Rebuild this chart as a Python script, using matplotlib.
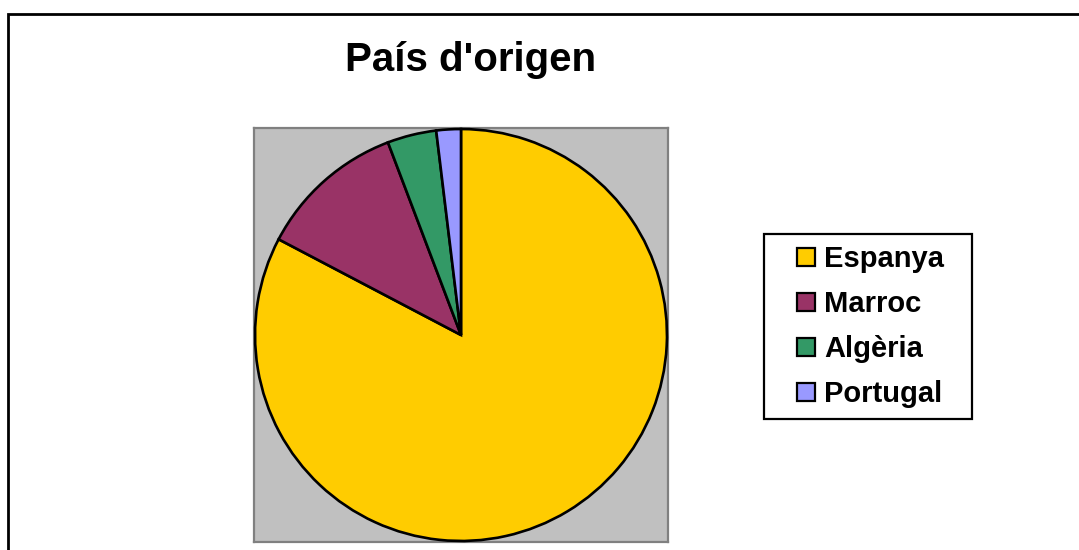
import matplotlib
matplotlib.use("Agg")
import matplotlib.pyplot as plt
from matplotlib.patches import Rectangle
from matplotlib.lines import Line2D

plt.rcParams['font.family'] = ['Liberation Sans', 'DejaVu Sans']

title = "País d'origen"
categories = ["Espanya", "Marroc", "Algèria", "Portugal"]
values = [43, 6, 2, 1]
colors = ["#FFCC00", "#993366", "#339966", "#9999FF"]

W, H = 1079, 550
fig = plt.figure(figsize=(W / 100, H / 100), dpi=100)
fig.patch.set_facecolor("white")


def fx(x):
    return x / W


def fy(y):
    return 1 - y / H


# outer chart frame (extends beyond the image on right and bottom)
fig.add_artist(Line2D([fx(8), fx(8), fx(W + 5)], [fy(H + 5), fy(14), fy(14)],
                      transform=fig.transFigure, color="black", lw=2.0,
                      solid_joinstyle="miter"))

# plot area
ax = fig.add_axes([fx(254), fy(542), 414 / W, 414 / H])
wedges, _ = ax.pie(values, colors=colors, startangle=90, counterclock=False,
                   radius=0.995, center=(0, 0),
                   wedgeprops=dict(edgecolor="black", linewidth=1.9))
for w in wedges:
    w.set_clip_on(False)
    w.set_zorder(3)
ax.set_xlim(-1, 1)
ax.set_ylim(-1, 1)
ax.set_frame_on(True)
ax.set_facecolor("#C0C0C0")
ax.set_xticks([])
ax.set_yticks([])
for s in ax.spines.values():
    s.set_color("#808080")
    s.set_linewidth(1.6)
    s.set_zorder(2)

# title
fig.text(fx(470.5), fy(70.7), title, ha="center", va="baseline",
         fontsize=29, fontweight="bold")

# legend
fig.add_artist(Rectangle((fx(763.5), fy(419)), (971.5 - 763.5) / W, (419 - 234) / H,
                         transform=fig.transFigure, facecolor="white",
                         edgecolor="black", lw=1.6))
for i, (lab, col) in enumerate(zip(categories, colors)):
    cy = 256.8 + i * 45
    fig.add_artist(Rectangle((fx(797), fy(cy + 9)), 18 / W, 18 / H,
                             transform=fig.transFigure, facecolor=col,
                             edgecolor="black", lw=1.6))
    fig.text(fx(824), fy(cy + 10.5), lab, ha="left", va="baseline",
             fontsize=21, fontweight="bold")

fig.savefig("out.png", dpi=100)
